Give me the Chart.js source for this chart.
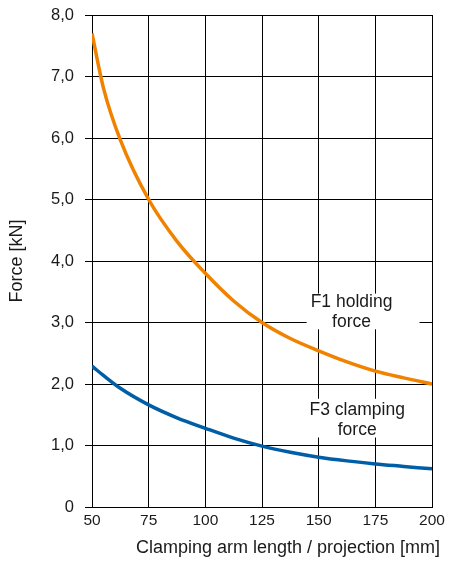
<!DOCTYPE html>
<html>
<head>
<meta charset="utf-8">
<script src="https://cdn.jsdelivr.net/npm/chart.js@4/dist/chart.umd.min.js"></script>
<style>
    html, body { margin: 0; padding: 0; background: #fff; }
    #wrap { width: 452px; height: 569px; }
</style>
</head>
<body>
<div id="wrap"><canvas id="forceChart"></canvas></div>
<script>
// Clamping arm length [mm]
const armLength = [50, 55, 62.5, 75, 87.5, 100, 112.5, 125, 137.5, 150, 162.5, 175, 187.5, 200];
// F1 holding force [kN]
const holdingForce = [7.7, 6.82, 5.97, 5.0, 4.32, 3.8, 3.35, 3.0, 2.74, 2.54, 2.36, 2.21, 2.1, 2.0];
// F3 clamping force [kN]
const clampingForce = [2.29, 2.14, 1.93, 1.66, 1.45, 1.28, 1.12, 0.99, 0.89, 0.81, 0.75, 0.70, 0.66, 0.62];

const xTicks = [50, 75, 100, 125, 150, 175, 200];
const yTickLabels = ["0", "1,0", "2,0", "3,0", "4,0", "5,0", "6,0", "7,0", "8,0"];
const xTitle = "Clamping arm length / projection [mm]";

const curveLabels = [
    { text: ["F1 holding", "force"], x: 164.5, y: 3.17, box: [144.7, 194.5, 3.47, 2.89] },
    { text: ["F3 clamping", "force"], x: 167, y: 1.41, box: [143.5, 194.5, 1.76, 1.13] }
];

const FONT = "'Liberation Sans', Arial, Helvetica, sans-serif";
const TEXT = "#1a1a1a";

// white boxes behind the curve names, the names, and the x axis title
const curveLabelPlugin = {
    id: "curveLabels",
    beforeDatasetsDraw(chart) {
        const { ctx, scales: { x, y } } = chart;
        ctx.save();
        ctx.fillStyle = "#fff";
        curveLabels.forEach(l => {
            const x0 = x.getPixelForValue(l.box[0]);
            const x1 = x.getPixelForValue(l.box[1]);
            const y0 = y.getPixelForValue(l.box[2]);
            const y1 = y.getPixelForValue(l.box[3]);
            ctx.fillRect(x0, y0, x1 - x0, y1 - y0);
        });
        ctx.restore();
    },
    afterDatasetsDraw(chart) {
        const { ctx, scales: { x, y } } = chart;
        ctx.save();
        ctx.fillStyle = TEXT;
        ctx.font = "17.5px " + FONT;
        ctx.textAlign = "center";
        ctx.textBaseline = "middle";
        curveLabels.forEach(l => {
            const cx = x.getPixelForValue(l.x);
            const cy = y.getPixelForValue(l.y);
            const lh = 19.5;
            l.text.forEach((t, i) => {
                ctx.fillText(t, cx, cy + (i - (l.text.length - 1) / 2) * lh);
            });
        });
        ctx.restore();
    },
    afterDraw(chart) {
        const { ctx, chartArea } = chart;
        ctx.save();
        ctx.fillStyle = TEXT;
        ctx.font = "18px " + FONT;
        ctx.textAlign = "right";
        ctx.textBaseline = "middle";
        ctx.fillText(xTitle, chartArea.right + 8, chart.height - 21);
        ctx.restore();
    }
};

new Chart(document.getElementById("forceChart").getContext("2d"), {
    type: "line",
    data: {
        datasets: [{
            label: "F1 holding force",
            data: armLength.map((d, i) => ({ x: d, y: holdingForce[i] })),
            borderColor: "rgb(240, 130, 0)",
            borderWidth: 3.5,
            pointRadius: 0,
            cubicInterpolationMode: "monotone",
            fill: false
        }, {
            label: "F3 clamping force",
            data: armLength.map((d, i) => ({ x: d, y: clampingForce[i] })),
            borderColor: "rgb(0, 94, 166)",
            borderWidth: 3.5,
            pointRadius: 0,
            cubicInterpolationMode: "monotone",
            fill: false
        }]
    },
    options: {
        responsive: true,
        maintainAspectRatio: false,
        animation: false,
        layout: { padding: { top: 15, right: 20, left: 0, bottom: 0 } },
        plugins: {
            legend: { display: false },
            tooltip: { enabled: false }
        },
        scales: {
            x: {
                type: "linear",
                min: 50,
                max: 200,
                afterBuildTicks: scale => { scale.ticks = xTicks.map(v => ({ value: v })); },
                afterFit: scale => {
                    scale.height = 62;
                    scale.paddingLeft = 0;
                    scale.paddingRight = 0;
                },
                grid: { color: "#000", lineWidth: 1, drawTicks: false },
                border: { color: "#000", width: 1 },
                ticks: {
                    padding: 4,
                    color: TEXT,
                    font: { family: FONT, size: 15.5 },
                    maxRotation: 0
                },
                title: { display: false }
            },
            y: {
                min: 0,
                max: 8,
                afterFit: scale => {
                    scale.width = 92;
                    scale.paddingTop = 0;
                    scale.paddingBottom = 0;
                },
                grid: { color: "#000", lineWidth: 1, tickLength: 7 },
                border: { color: "#000", width: 1 },
                ticks: {
                    stepSize: 1,
                    padding: 11,
                    color: TEXT,
                    font: { family: FONT, size: 16.5 },
                    callback: (v, i) => yTickLabels[i]
                },
                title: {
                    display: true,
                    text: "Force [kN]",
                    color: TEXT,
                    font: { family: FONT, size: 18 },
                    padding: { top: 6, bottom: 0 }
                }
            }
        }
    },
    plugins: [curveLabelPlugin]
});
</script>
</body>
</html>
